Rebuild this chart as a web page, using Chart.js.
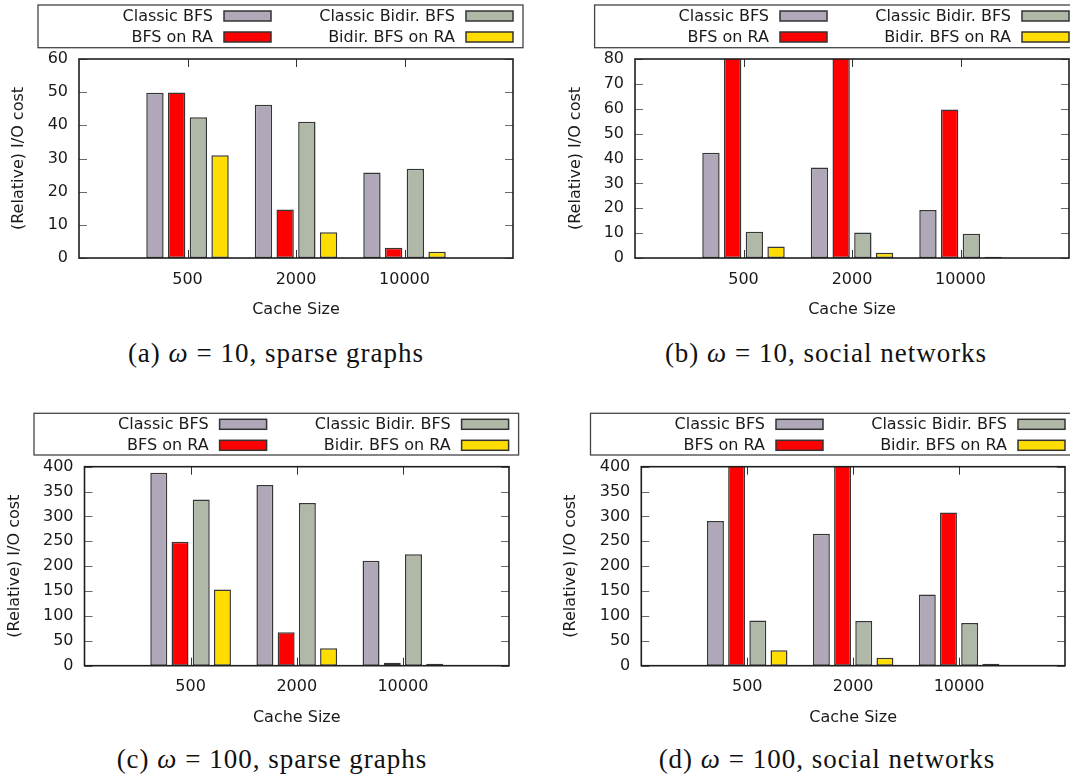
<!DOCTYPE html>
<html>
<head>
<meta charset="utf-8">
<title>Relative I/O cost</title>
<script src="https://cdn.jsdelivr.net/npm/chart.js@4.4.1/dist/chart.umd.min.js"></script>
<style>
  body { margin: 0; background: #fff; width: 1070px; height: 782px; overflow: hidden; position: relative; }
  .panel { position: absolute; }
  .cap {
    position: absolute; width: 420px; text-align: center;
    font-family: "Liberation Serif", serif; font-size: 27px; line-height: 26px;
    letter-spacing: 1px; color: #111;
  }
</style>
</head>
<body>
<div class="panel" style="left:0px;top:0px"><canvas id="chartA" width="525" height="319"></canvas></div>
<div class="panel" style="left:557px;top:0px"><canvas id="chartB" width="524" height="319"></canvas></div>
<div class="panel" style="left:0px;top:400px"><canvas id="chartC" width="521" height="327"></canvas></div>
<div class="panel" style="left:552px;top:400px"><canvas id="chartD" width="525" height="327"></canvas></div>

<div class="cap" style="left:66px;top:340px">(a) <i>ω</i> = 10, sparse graphs</div>
<div class="cap" style="left:616px;top:340px">(b) <i>ω</i> = 10, social networks</div>
<div class="cap" style="left:62px;top:746px">(c) <i>ω</i> = 100, sparse graphs</div>
<div class="cap" style="left:617px;top:746px">(d) <i>ω</i> = 100, social networks</div>

<script>
// categories and series
const cacheSizes = ["500", "2000", "10000"];
const seriesNames = ["Classic BFS", "BFS on RA", "Classic Bidir. BFS", "Bidir. BFS on RA"];
const seriesColors = ["#b0a8b9", "#ff0000", "#b0b8a7", "#ffdd00"];

// (a) omega = 10, sparse graphs
const aClassic = [49.8, 46.2, 25.8];
const aRA = [49.9, 14.6, 3.1];
const aBidir = [42.4, 41.1, 26.9];
const aBidirRA = [31.0, 7.8, 1.9];

// (b) omega = 10, social networks (BFS on RA at 500/2000 goes off the top)
const bClassic = [42.3, 36.4, 19.3];
const bRA = [95, 95, 59.7];
const bBidir = [10.6, 10.3, 9.7];
const bBidirRA = [4.6, 2.1, 0.5];

// (c) omega = 100, sparse graphs
const cClassic = [388, 363, 211];
const cRA = [249, 67, 6];
const cBidir = [334, 327, 224];
const cBidirRA = [153, 35, 4];

// (d) omega = 100, social networks (BFS on RA at 500/2000 goes off the top)
const dClassic = [291, 265, 143];
const dRA = [480, 480, 308];
const dBidir = [91, 90, 86];
const dBidirRA = [31, 16, 4];

// y axis ranges
const yMaxes = [60, 80, 400, 400];
const ySteps = [10, 10, 50, 50];

const FONT_SIZE = 16;
Chart.defaults.font.family = "'DejaVu Sans', sans-serif";
Chart.defaults.font.size = FONT_SIZE;
Chart.defaults.color = "#1a1a1a";

// gnuplot like frame: inward ticks on all four sides + box border
const gnuFrame = {
  id: "gnuFrame",
  beforeDatasetsDraw(chart) {
    const { ctx, chartArea: a, scales } = chart;
    ctx.save();
    ctx.strokeStyle = "#6a6a6a";
    ctx.lineWidth = 1;
    ctx.beginPath();
    scales.y.ticks.forEach((t) => {
      const y = Math.round(scales.y.getPixelForValue(t.value)) + 0.5;
      ctx.moveTo(a.left, y);
      ctx.lineTo(a.left + 8, y);
      ctx.moveTo(a.right, y);
      ctx.lineTo(a.right - 8, y);
    });
    ctx.stroke();
    ctx.strokeStyle = "#333";
    ctx.beginPath();
    scales.x.ticks.forEach((t) => {
      if (!scales.x.getLabelForValue(t.value)) return;
      const x = Math.round(scales.x.getPixelForValue(t.value)) + 0.5;
      ctx.moveTo(x, a.bottom);
      ctx.lineTo(x, a.bottom - 8);
      ctx.moveTo(x, a.top);
      ctx.lineTo(x, a.top + 8);
    });
    ctx.stroke();
    ctx.restore();
  },
  afterDatasetsDraw(chart) {
    const { ctx, chartArea: a } = chart;
    ctx.save();
    ctx.strokeStyle = "#1e1e1e";
    ctx.lineWidth = 1.6;
    ctx.strokeRect(a.left, a.top, a.right - a.left, a.bottom - a.top);
    ctx.restore();
  },
};

// gnuplot style key: label text, then the swatch, two columns
const gnuKey = {
  id: "gnuKey",
  afterDraw(chart, args, opts) {
    const { ctx } = chart;
    const box = opts.box;
    ctx.save();
    ctx.strokeStyle = "#444";
    ctx.lineWidth = 1.3;
    ctx.strokeRect(box.left, box.top, box.right - box.left, box.bottom - box.top);
    ctx.font = FONT_SIZE + "px 'DejaVu Sans', sans-serif";
    ctx.textAlign = "right";
    ctx.textBaseline = "middle";
    chart.data.datasets.forEach((ds, i) => {
      const col = Math.floor(i / 2);
      const row = i % 2;
      const swRight = box.right - 10 - (1 - col) * 242;
      const swLeft = swRight - 47;
      const cy = box.top + 11 + row * 21;
      ctx.fillStyle = ds.backgroundColor;
      ctx.fillRect(swLeft, cy - 5, 47, 10);
      ctx.strokeStyle = "#333";
      ctx.lineWidth = 1.5;
      ctx.strokeRect(swLeft, cy - 5, 47, 10);
      ctx.fillStyle = "#1a1a1a";
      ctx.fillText(ds.label, swLeft - 11, cy + 1);
    });
    ctx.restore();
  },
};

const pad = (arr) => [null, ...arr, null];

function makePanel(canvasId, cfg, series, yMax, yStep) {
  const yWidth = cfg.plot.left - cfg.left;
  const xHeight = cfg.height - (cfg.plot.bottom - cfg.top);
  const halfLine = (FONT_SIZE * 1.2) / 2;
  new Chart(document.getElementById(canvasId), {
    type: "bar",
    data: {
      labels: ["", ...cacheSizes, ""],
      datasets: series.map((vals, i) => ({
        label: seriesNames[i],
        data: pad(vals),
        backgroundColor: seriesColors[i],
        borderColor: "#363636",
        borderWidth: 1.5,
        borderSkipped: false,
        barPercentage: 0.8,
        categoryPercentage: 0.8,
        clip: 0,
      })),
    },
    options: {
      responsive: false,
      animation: false,
      layout: {
        padding: {
          left: 0,
          top: cfg.plot.top - cfg.top,
          right: cfg.left + cfg.width - cfg.plot.right,
          bottom: 0,
        },
      },
      plugins: {
        legend: { display: false },
        tooltip: { enabled: false },
        gnuKey: {
          box: {
            left: cfg.key.left - cfg.left,
            top: cfg.key.top - cfg.top,
            right: cfg.key.right - cfg.left,
            bottom: cfg.key.bottom - cfg.top,
          },
        },
      },
      scales: {
        x: {
          offset: false,
          grid: { display: false, drawTicks: false },
          border: { display: false },
          ticks: { padding: 12, autoSkip: false, maxRotation: 0 },
          title: { display: true, text: "Cache Size", padding: { top: 0, bottom: 0 } },
          afterFit: (scale) => { scale.height = xHeight; },
        },
        y: {
          min: 0,
          max: yMax,
          grid: { display: false, drawTicks: false },
          border: { display: false },
          ticks: { stepSize: yStep, padding: 11 },
          title: {
            display: true,
            text: "(Relative) I/O cost",
            padding: { top: cfg.titleX - cfg.left - halfLine, bottom: 0 },
          },
          afterFit: (scale) => { scale.width = yWidth; },
        },
      },
    },
    plugins: [gnuFrame, gnuKey],
  });
}

makePanel("chartA",
  { left: 0, top: 0, width: 525, height: 319, titleX: 18.7,
    plot: { left: 79, top: 59, right: 523, bottom: 258 },
    key: { left: 38, top: 5, right: 523, bottom: 47.7 } },
  [aClassic, aRA, aBidir, aBidirRA], yMaxes[0], ySteps[0]);

makePanel("chartB",
  { left: 557, top: 0, width: 524, height: 319, titleX: 575.9,
    plot: { left: 635, top: 59, right: 1079, bottom: 258 },
    key: { left: 594.6, top: 5, right: 1079, bottom: 47.7 } },
  [bClassic, bRA, bBidir, bBidirRA], yMaxes[1], ySteps[1]);

makePanel("chartC",
  { left: 0, top: 400, width: 521, height: 327, titleX: 15.3,
    plot: { left: 84.5, top: 466.7, right: 518.6, bottom: 665.7 },
    key: { left: 34, top: 413.3, right: 518.6, bottom: 455 } },
  [cClassic, cRA, cBidir, cBidirRA], yMaxes[2], ySteps[2]);

makePanel("chartD",
  { left: 552, top: 400, width: 525, height: 327, titleX: 570.8,
    plot: { left: 641.3, top: 466.7, right: 1075, bottom: 665.7 },
    key: { left: 590.5, top: 413.3, right: 1075, bottom: 455 } },
  [dClassic, dRA, dBidir, dBidirRA], yMaxes[3], ySteps[3]);
</script>
</body>
</html>
